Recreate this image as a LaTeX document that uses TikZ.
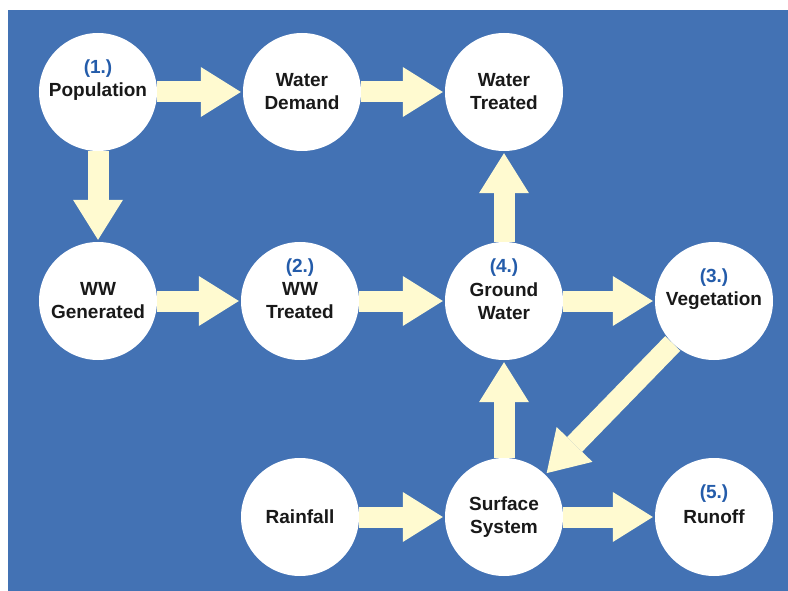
\documentclass[tikz,border=0pt]{standalone}
\usepackage{fontspec}
\setsansfont{Liberation Sans}
\usetikzlibrary{arrows.meta}
\definecolor{bgblue}{RGB}{67,114,180}
\definecolor{cream}{RGB}{255,250,208}
\definecolor{numblue}{RGB}{36,92,170}

\begin{document}
\begin{tikzpicture}[x=1pt,y=-1pt,
  font=\sffamily\bfseries\fontsize{19}{23}\selectfont,
  stage/.style={circle,fill=white,minimum size=118pt,inner sep=0pt,align=center,text=black!90},
  num/.style={text=numblue,inner sep=0pt},
  flow/.style={cream,line width=21pt,shorten >=2pt,
    -{Triangle[length=40pt,width=50pt,line width=0pt]}}]
\fill[white] (0,0) rectangle (788,591);
\fill[bgblue] (8,10) rectangle (788,591);
% stages of the cycle
\node[stage] (pop) at (98,92) {Population};
\node[stage] (wdem) at (302,92) {Water\\Demand};
\node[stage] (wtr) at (504,92) {Water\\Treated};
\node[stage] (wwgen) at (98,301) {WW\\Generated};
\node[stage] (wwtr) at (300,301) {WW\\Treated};
\node[stage] (gw) at (504,301) {Ground\\Water};
\node[stage] (veg) at (714,301) {Vegetation};
\node[stage] (rain) at (300,517) {Rainfall};
\node[stage] (surf) at (504,517) {Surface\\System};
\node[stage] (roff) at (714,517) {Runoff};
% numbers
\node[num] (n1) at ([yshift=23pt]pop.center) {(1.)};
\node[num] (n2) at ([yshift=33pt]wwtr.center) {(2.)};
\node[num] (n3) at ([yshift=23pt]veg.center) {(3.)};
\node[num] (n4) at ([yshift=33pt]gw.center) {(4.)};
\node[num] (n5) at ([yshift=23pt]roff.center) {(5.)};
% flows
\draw[flow] (pop) -- (wdem);
\draw[flow] (wdem) -- (wtr);
\draw[flow] (pop) -- (wwgen);
\draw[flow] (wwgen) -- (wwtr);
\draw[flow] (wwtr) -- (gw);
\draw[flow] (gw) -- (wtr);
\draw[flow] (gw) -- (veg);
\draw[flow] (veg) -- (surf);
\draw[flow] (surf) -- (gw);
\draw[flow] (rain) -- (surf);
\draw[flow] (surf) -- (roff);
\end{tikzpicture}
\end{document}
